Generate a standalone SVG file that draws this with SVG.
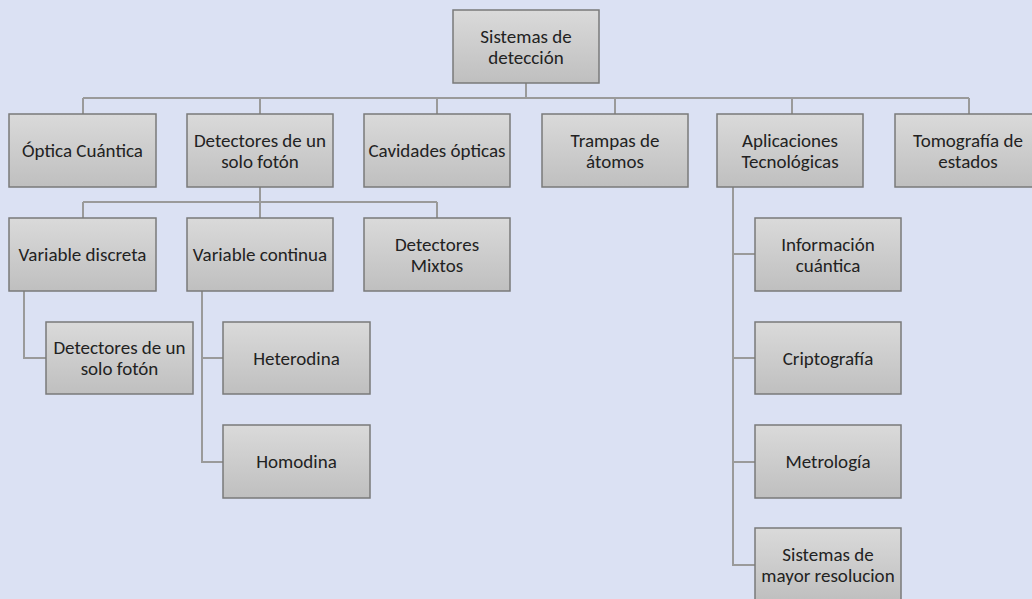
<svg xmlns="http://www.w3.org/2000/svg" width="1032" height="599" viewBox="0 0 1032 599">
<defs>
<linearGradient id="g" x1="0" y1="0" x2="0" y2="1">
<stop offset="0" stop-color="#dadada"/>
<stop offset="1" stop-color="#bfbfbf"/>
</linearGradient>
<style>
.b{fill:url(#g);stroke:#7a7a7a;stroke-width:1.5}
.t{font-family:Carlito,Calibri,Lato,"Liberation Sans",sans-serif;font-size:19px;fill:#222222;text-anchor:middle}
.c{fill:none;stroke:#9a9a9a;stroke-width:2}
</style>
</defs>
<rect width="1032" height="599" fill="#dbe1f3"/>
<g id="connectors" class="c">
<path d="M526,83V98M83,98H969M83,98V114M260,98V114M437,98V114M615,98V114M792,98V114M969,98V114"/>
<path d="M260,187V202M83,202H437M83,202V218M260,202V218M437,202V218"/>
<path d="M24,291V358H46"/>
<path d="M202,291V462H223M202,358H223"/>
<path d="M733,187V565H755M733,254H755M733,358H755M733,462H755"/>
</g>
<g id="root"><rect class="b" x="453" y="10" width="146" height="73"/><text class="t" x="526" y="43">Sistemas de</text><text class="t" x="526" y="64">detección</text></g>
<g id="optica"><rect class="b" x="9" y="114" width="147" height="73"/><text class="t" x="82.5" y="157">Óptica Cuántica</text></g>
<g id="detectores"><rect class="b" x="187" y="114" width="146" height="73"/><text class="t" x="260" y="147">Detectores de un</text><text class="t" x="260" y="168">solo fotón</text></g>
<g id="cavidades"><rect class="b" x="364" y="114" width="146" height="73"/><text class="t" x="437" y="157">Cavidades ópticas</text></g>
<g id="trampas"><rect class="b" x="542" y="114" width="146" height="73"/><text class="t" x="615" y="147">Trampas de</text><text class="t" x="615" y="168">átomos</text></g>
<g id="aplicaciones"><rect class="b" x="717" y="114" width="146" height="73"/><text class="t" x="790" y="147">Aplicaciones</text><text class="t" x="790" y="168">Tecnológicas</text></g>
<g id="tomografia"><rect class="b" x="895" y="114" width="146" height="73"/><text class="t" x="968" y="147">Tomografía de</text><text class="t" x="968" y="168">estados</text></g>
<g id="discreta"><rect class="b" x="9" y="218" width="147" height="73"/><text class="t" x="82.5" y="261">Variable discreta</text></g>
<g id="continua"><rect class="b" x="187" y="218" width="146" height="73"/><text class="t" x="260" y="261">Variable continua</text></g>
<g id="mixtos"><rect class="b" x="364" y="218" width="146" height="73"/><text class="t" x="437" y="251">Detectores</text><text class="t" x="437" y="272">Mixtos</text></g>
<g id="unsolo"><rect class="b" x="46" y="322" width="147" height="72"/><text class="t" x="119.5" y="354">Detectores de un</text><text class="t" x="119.5" y="375">solo fotón</text></g>
<g id="heterodina"><rect class="b" x="223" y="322" width="147" height="72"/><text class="t" x="296.5" y="365">Heterodina</text></g>
<g id="homodina"><rect class="b" x="223" y="425" width="147" height="73"/><text class="t" x="296.5" y="468">Homodina</text></g>
<g id="informacion"><rect class="b" x="755" y="218" width="146" height="73"/><text class="t" x="828" y="251">Información</text><text class="t" x="828" y="272">cuántica</text></g>
<g id="criptografia"><rect class="b" x="755" y="322" width="146" height="72"/><text class="t" x="828" y="365">Criptografía</text></g>
<g id="metrologia"><rect class="b" x="755" y="425" width="146" height="73"/><text class="t" x="828" y="468">Metrología</text></g>
<g id="sistemas"><rect class="b" x="755" y="528" width="146" height="73"/><text class="t" x="828" y="561">Sistemas de</text><text class="t" x="828" y="582">mayor resolucion</text></g>
</svg>
